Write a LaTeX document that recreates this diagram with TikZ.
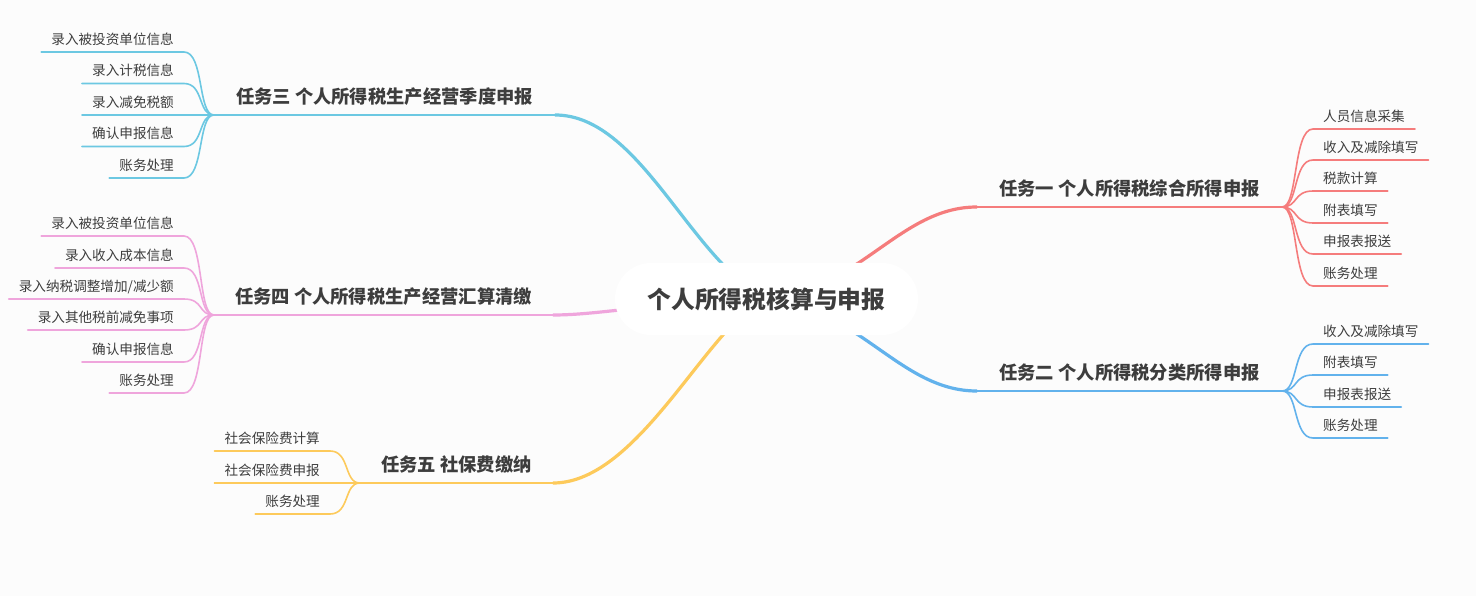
\documentclass[tikz,border=0pt]{standalone}
\usepackage{fontspec}
\setmainfont{Noto Sans CJK SC}
\definecolor{bgc}{HTML}{FCFCFC}
\definecolor{txt}{HTML}{3D3D3D}
\definecolor{red1}{HTML}{F57C7C}
\definecolor{blue2}{HTML}{62B2EC}
\definecolor{blue3}{HTML}{6CC8E2}
\definecolor{pink4}{HTML}{EFA5DC}
\definecolor{gold5}{HTML}{FDCA5B}
\begin{document}
\begin{tikzpicture}
[
 x=1pt, y=-1pt,
 line cap=round,
 root/.style={fill=white,rectangle,rounded corners=36pt,minimum width=303pt,minimum height=72pt,text=txt,font=\fontsize{23.8}{28}\selectfont\bfseries},
 task/.style={anchor=south,inner xsep=0pt,inner ysep=11.5pt,text depth=0pt,text=txt,font=\fontsize{18.3}{22}\selectfont\bfseries},
 leaf/.style={inner xsep=10pt,inner ysep=7.5pt,text depth=0pt,text=txt,font=\fontsize{13.6}{16}\selectfont},
 stem/.style={line width=3.2pt},
 bough/.style={line width=2.2pt},
 twig/.style={line width=1.6pt}
]
\fill [bgc] (0,0) rectangle (1476,596);
\coordinate (hub) at (766.5,299);
% tasks
\node (t1) [task,minimum width=305pt] at (1129.5,207) {任务一 个人所得税综合所得申报};
\node (t2) [task,minimum width=305pt] at (1129.5,391) {任务二 个人所得税分类所得申报};
\node (t3) [task,minimum width=341pt] at (384.5,115) {任务三 个人所得税生产经营季度申报};
\node (t4) [task,minimum width=339pt] at (383.5,315) {任务四 个人所得税生产经营汇算清缴};
\node (t5) [task,minimum width=193pt] at (456.5,483) {任务五 社保费缴纳};
% task one
\node (r1a) [leaf,anchor=south west] at (1313,129) {人员信息采集};
\node (r1b) [leaf,anchor=south west] at (1313,160) {收入及减除填写};
\node (r1c) [leaf,anchor=south west] at (1313,191) {税款计算};
\node (r1d) [leaf,anchor=south west] at (1313,223) {附表填写};
\node (r1e) [leaf,anchor=south west] at (1313,254) {申报表报送};
\node (r1f) [leaf,anchor=south west] at (1313,286) {账务处理};
% task two
\node (r2a) [leaf,anchor=south west] at (1313,344) {收入及减除填写};
\node (r2b) [leaf,anchor=south west] at (1313,375) {附表填写};
\node (r2c) [leaf,anchor=south west] at (1313,407) {申报表报送};
\node (r2d) [leaf,anchor=south west] at (1313,438) {账务处理};
% task three
\node (l3a) [leaf,anchor=south east] at (184,52) {录入被投资单位信息};
\node (l3b) [leaf,anchor=south east] at (184,83.5) {录入计税信息};
\node (l3c) [leaf,anchor=south east] at (184,115) {录入减免税额};
\node (l3d) [leaf,anchor=south east] at (184,146.5) {确认申报信息};
\node (l3e) [leaf,anchor=south east] at (184,178) {账务处理};
% task four
\node (l4a) [leaf,anchor=south east] at (184,236) {录入被投资单位信息};
\node (l4b) [leaf,anchor=south east] at (184,268) {录入收入成本信息};
\node (l4c) [leaf,anchor=south east] at (184,299) {录入纳税调整增加/减少额};
\node (l4d) [leaf,anchor=south east] at (184,330) {录入其他税前减免事项};
\node (l4e) [leaf,anchor=south east] at (184,362) {确认申报信息};
\node (l4f) [leaf,anchor=south east] at (184,393) {账务处理};
% task five
\node (l5a) [leaf,anchor=south east] at (330,451) {社会保险费计算};
\node (l5b) [leaf,anchor=south east] at (330,483) {社会保险费申报};
\node (l5c) [leaf,anchor=south east] at (330,514) {账务处理};
% main branches
\draw [red1,stem] (hub) .. controls (860,290) and (900,207) .. (t1.south west);
\draw [red1,bough] (t1.south west) -- (t1.south east);
\draw [blue2,stem] (hub) .. controls (860,308) and (900,391) .. (t2.south west);
\draw [blue2,bough] (t2.south west) -- (t2.south east);
\draw [blue3,stem] (hub) .. controls (690,260) and (640,115) .. (t3.south east);
\draw [blue3,bough] (t3.south east) -- (t3.south west);
\draw [pink4,stem] (hub) .. controls (650,303) and (600,315) .. (t4.south east);
\draw [pink4,bough] (t4.south east) -- (t4.south west);
\draw [gold5,stem] (hub) .. controls (710,320) and (640,483) .. (t5.south east);
\draw [gold5,bough] (t5.south east) -- (t5.south west);
% twigs
\foreach \c in {r1a,r1b,r1c,r1d,r1e,r1f}
  \draw [red1,twig] (t1.south east) .. controls +(16,0) and +(-20,0) .. (\c.south west) -- (\c.south east);
\foreach \c in {r2a,r2b,r2c,r2d}
  \draw [blue2,twig] (t2.south east) .. controls +(16,0) and +(-20,0) .. (\c.south west) -- (\c.south east);
\foreach \c in {l3a,l3b,l3c,l3d,l3e}
  \draw [blue3,twig] (t3.south west) .. controls +(-16,0) and +(20,0) .. (\c.south east) -- (\c.south west);
\foreach \c in {l4a,l4b,l4c,l4d,l4e,l4f}
  \draw [pink4,twig] (t4.south west) .. controls +(-16,0) and +(20,0) .. (\c.south east) -- (\c.south west);
\foreach \c in {l5a,l5b,l5c}
  \draw [gold5,twig] (t5.south west) .. controls +(-16,0) and +(20,0) .. (\c.south east) -- (\c.south west);
% root
\node (root) [root] at (hub) {个人所得税核算与申报};
\end{tikzpicture}
\end{document}
